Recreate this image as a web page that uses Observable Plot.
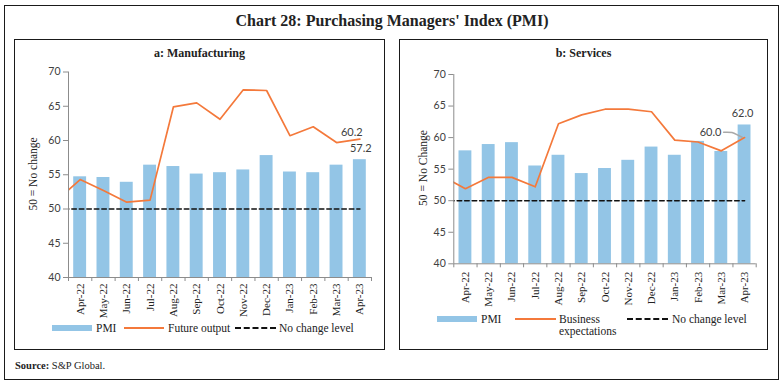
<!DOCTYPE html>
<html>
<head>
<meta charset="utf-8">
<script src="https://cdn.jsdelivr.net/npm/d3@7"></script>
<script src="https://cdn.jsdelivr.net/npm/@observablehq/plot@0.6"></script>
<style>
  html, body { margin: 0; padding: 0; background: #fff; }
  #page { position: relative; width: 784px; height: 385px; background: #fff; overflow: hidden; font-family: "Liberation Serif", "DejaVu Serif", serif; color: #222; }
  .abs { position: absolute; }
  .box { position: absolute; box-sizing: border-box; border: 1.3px solid #1a1a1a; }
  .title { position: absolute; left: 0; width: 784px; text-align: center; font-size: 16px; font-weight: bold; top: 12px; }
  .ptitle { position: absolute; font-size: 12px; font-weight: bold; text-align: center; }
  .ylab { position: absolute; font-size: 11.5px; white-space: nowrap; transform: translate(-50%, -50%) rotate(-90deg); }
  .leg { position: absolute; font-size: 11.5px; white-space: nowrap; line-height: 12px; }
  .sw-bar { position: absolute; height: 6px; background: #93c5e6; }
  .sw-line { position: absolute; height: 0; border-top: 2.2px solid #f4793b; }
  .sw-dash { position: absolute; height: 0; border-top: 2px dashed #111; }
  svg { overflow: visible; }
</style>
</head>
<body>
<div id="page">
  <div class="box" style="left:4px;top:5px;width:775px;height:375px;"></div>
  <div class="title">Chart 28: Purchasing Managers' Index (PMI)</div>
  <div class="box" style="left:14px;top:39px;width:371px;height:311px;"></div>
  <div class="box" style="left:399px;top:39px;width:369px;height:311px;"></div>
  <div class="ptitle" style="left:14px;width:371px;top:46px;">a: Manufacturing</div>
  <div class="ptitle" style="left:399px;width:369px;top:46px;">b: Services</div>
  <div class="ylab" style="left:33px;top:174px;">50 = No change</div>
  <div class="ylab" style="left:423px;top:168px;">50 = No Change</div>
  <div id="chartA" class="abs" style="left:14px;top:40px;"></div>
  <div id="chartB" class="abs" style="left:399px;top:40px;"></div>

  <div class="sw-bar" style="left:52px;top:325px;width:40px;"></div>
  <div class="leg" style="left:96px;top:322px;">PMI</div>
  <div class="sw-line" style="left:124px;top:327px;width:40px;"></div>
  <div class="leg" style="left:168px;top:322px;">Future output</div>
  <div class="sw-dash" style="left:235px;top:327px;width:41px;"></div>
  <div class="leg" style="left:279px;top:322px;">No change level</div>

  <div class="sw-bar" style="left:437px;top:316px;width:40px;"></div>
  <div class="leg" style="left:481px;top:313px;">PMI</div>
  <div class="sw-line" style="left:515px;top:318px;width:41px;"></div>
  <div class="leg" style="left:559px;top:313px;">Business<br>expectations</div>
  <div class="sw-dash" style="left:627px;top:318px;width:41px;"></div>
  <div class="leg" style="left:672px;top:313px;">No change level</div>

  <div class="abs" style="left:15px;top:360px;font-size:10.5px;"><b>Source:</b> S&amp;P Global.</div>
</div>
<script>
// ---- Data ----
const months = ["Apr-22","May-22","Jun-22","Jul-22","Aug-22","Sep-22","Oct-22","Nov-22","Dec-22","Jan-23","Feb-23","Mar-23","Apr-23"];
// Manufacturing
const mfgPMI = [54.7, 54.6, 53.9, 56.4, 56.2, 55.1, 55.3, 55.7, 57.8, 55.4, 55.3, 56.4, 57.2];
// Future output: first value is Mar-22 (clipped at the axis), then Apr-22 .. Apr-23
const mfgFuture = [51.3, 54.3, 52.7, 51.0, 51.3, 64.9, 65.5, 63.1, 67.4, 67.3, 60.7, 62.0, 59.7, 60.2];
// Services
const svcPMI = [57.9, 58.9, 59.2, 55.5, 57.2, 54.3, 55.1, 56.4, 58.5, 57.2, 59.4, 57.8, 62.0];
const svcExpect = [53.9, 51.9, 53.7, 53.7, 52.2, 62.2, 63.6, 64.5, 64.5, 64.1, 59.6, 59.3, 57.9, 60.0];
const noChange = 50;
const yTicks = [40, 45, 50, 55, 60, 65, 70];

const BAR = "#93c5e6", ORANGE = "#f4793b", AXIS = "#8c8c8c", TXT = "#404040";
const SANS = "Lato, 'Liberation Sans', sans-serif";
const SERIF = "'Liberation Serif', 'DejaVu Serif', serif";

function makeChart(cfg) {
  const bars = cfg.pmi.map((v, i) => ({i, v}));
  const line = cfg.line.map((v, k) => ({i: k - 1, v}));
  const nc = cfg.line.map((v, k) => ({i: k - 1, v: noChange}));
  const last = bars[bars.length - 1];
  const lastLine = line[line.length - 1];
  const bounds = d3.range(-0.5, months.length, 1);
  const marks = [
    Plot.rectY(bars, {x1: d => d.i - 0.5, x2: d => d.i + 0.5, y1: 40, y2: "v", fill: BAR, insetLeft: cfg.inset, insetRight: cfg.inset}),
    Plot.line(nc, {x: "i", y: "v", stroke: "#111", strokeWidth: 1.6, strokeDasharray: "4.5,3", clip: true}),
    Plot.line(line, {x: "i", y: "v", stroke: ORANGE, strokeWidth: 1.7, clip: true}),
    Plot.ruleX([-0.5], {stroke: AXIS, strokeWidth: 1}),
    Plot.ruleY([40], {stroke: AXIS, strokeWidth: 1}),
    Plot.axisY({ticks: yTicks, tickSize: 5, tickPadding: 3, stroke: AXIS, fill: TXT, fontFamily: SANS, fontSize: 10.5, label: null}),
    Plot.axisX({ticks: bounds, tickSize: 4, tickFormat: () => "", stroke: AXIS, label: null}),
    Plot.axisX({ticks: d3.range(months.length), tickSize: 0, tickPadding: cfg.tickPad, tickRotate: -90, tickFormat: i => months[i], fill: "#222", fontFamily: SERIF, fontSize: 11, label: null}),
    Plot.text([last], {x: "i", y: "v", text: d => d.v.toFixed(1), dx: cfg.barLab[0], dy: cfg.barLab[1], fill: TXT, fontFamily: SANS, fontSize: 11}),
    Plot.text([lastLine], {x: "i", y: "v", text: d => d.v.toFixed(1), dx: cfg.lineLab[0], dy: cfg.lineLab[1], fill: TXT, fontFamily: SANS, fontSize: 11})
  ];
  if (cfg.leader) {
    const lead = cfg.leader.map(([dx, dy]) => ({i: lastLine.i + dx, v: lastLine.v + dy}));
    marks.push(Plot.line(lead, {x: "i", y: "v", stroke: "#a8a8a8", strokeWidth: 1.5, curve: "catmull-rom"}));
  }
  return Plot.plot({
    width: cfg.width, height: cfg.height,
    marginLeft: cfg.ml, marginRight: cfg.mr, marginTop: cfg.mt, marginBottom: cfg.mb,
    style: {background: "transparent", fontFamily: SERIF, overflow: "visible"},
    x: {type: "linear", domain: [-0.5, months.length - 0.5]},
    y: {domain: [40, 70]},
    marks
  });
}

document.getElementById("chartA").appendChild(makeChart({
  pmi: mfgPMI, line: mfgFuture, width: 372, height: 285, ml: 54, mr: 15, mt: 31.5, mb: 48,
  inset: 5.2, tickPad: 6, barLab: [1, -11], lineLab: [-8, -7]
}));
document.getElementById("chartB").appendChild(makeChart({
  pmi: svcPMI, line: svcExpect, width: 369, height: 275, ml: 54.3, mr: 12.3, mt: 34, mb: 51.7,
  inset: 5.2, tickPad: 8, barLab: [-2, -12], lineLab: [-34, -5],
  leader: [[-0.9, 0.85], [-0.54, 0.8], [-0.26, 0.34], [-0.1, 0.05]]
}));
</script>
</body>
</html>
